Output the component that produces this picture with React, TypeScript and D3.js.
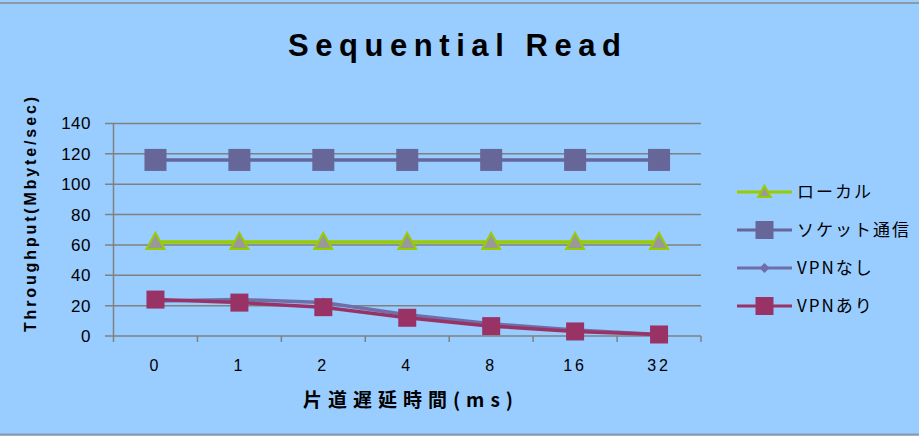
import React from "react";
import * as d3 from "d3";

const categories = ["0", "1", "2", "4", "8", "16", "32"];
const local = [62, 62, 62, 62, 62, 62, 62];
const socket = [116, 116, 116, 116, 116, 116, 116];
const vpnNone = [23, 24, 22, 14, 8, 4, 1];
const vpnWith = [24, 22, 19, 12, 6.5, 3, 1];
const yTicks = [0, 20, 40, 60, 80, 100, 120, 140];

const W = 919;
const H = 436;
const plot = { left: 113.5, right: 701, top: 123.5, bottom: 336 };

type Series = { name: string; values: number[]; color: string; marker: string; fill: string };

const series: Series[] = [
  { name: "ローカル", values: local, color: "#99CC00", marker: "triangle", fill: "#999999" },
  { name: "ソケット通信", values: socket, color: "#666699", marker: "bigsquare", fill: "#666699" },
  { name: "VPNなし", values: vpnNone, color: "#6E6EA8", marker: "diamond", fill: "#6E6EA8" },
  { name: "VPNあり", values: vpnWith, color: "#993366", marker: "square", fill: "#993366" },
];

function Marker({ kind, x, y, color, fill, small }: { kind: string; x: number; y: number; color: string; fill: string; small?: boolean }) {
  const k = small ? 0.7 : 1;
  if (kind === "triangle") {
    const p = `${x},${y - 9 * k} ${x + 9 * k},${y + 7 * k} ${x - 9 * k},${y + 7 * k}`;
    return <polygon points={p} fill={fill} stroke={color} strokeWidth={2} />;
  }
  if (kind === "bigsquare") {
    const s = 11 * k;
    return <rect x={x - s} y={y - s} width={2 * s} height={2 * s} fill={fill} />;
  }
  if (kind === "square") {
    const s = 9 * k;
    return <rect x={x - s} y={y - s} width={2 * s} height={2 * s} fill={fill} />;
  }
  const p = `${x},${y - 5} ${x + 5},${y} ${x},${y + 5} ${x - 5},${y}`;
  return <polygon points={p} fill={fill} />;
}

export default function App() {
  const x = d3.scaleBand<string>().domain(categories).range([plot.left, plot.right]);
  const y = d3.scaleLinear().domain([0, 140]).range([plot.bottom, plot.top]);
  const cx = (c: string) => (x(c) as number) + x.bandwidth() / 2;
  const line = d3
    .line<number>()
    .x((_, i) => cx(categories[i]))
    .y((d) => y(d));

  const boundaries = categories.map((c) => x(c) as number).concat([plot.right]);

  const legendX0 = 737;
  const legendX1 = 792;
  const legendY = [192, 230, 268, 306];

  return (
    <svg width={W} height={H} style={{ position: "absolute", left: 0, top: 0, display: "block" }}>
      <rect x={0} y={0} width={W} height={H} fill="#99CCFF" />
      <line x1={0} x2={W} y1={3} y2={3} stroke="#8C9AA8" strokeWidth={2} />
      <line x1={0} x2={W} y1={434.5} y2={434.5} stroke="#8C9AA8" strokeWidth={2} />

      <text
        x={288}
        y={56}
        fontFamily="'Liberation Sans', Arial, sans-serif"
        fontWeight="bold"
        fontSize={31}
        textLength={333}
        lengthAdjust="spacing"
        fill="#000"
      >
        Sequential Read
      </text>

      {/* gridlines */}
      {yTicks.map((t) => (
        <line key={"g" + t} x1={105} x2={plot.right} y1={y(t)} y2={y(t)} stroke="#808080" strokeWidth={1.5} />
      ))}
      <line x1={plot.left} x2={plot.left} y1={plot.top} y2={plot.bottom} stroke="#808080" strokeWidth={1.5} />
      {boundaries.map((b, i) => (
        <line key={"t" + i} x1={b} x2={b} y1={plot.bottom} y2={plot.bottom + 6} stroke="#808080" strokeWidth={1.5} />
      ))}

      {/* y tick labels */}
      {yTicks.map((t) => (
        <text
          key={"yl" + t}
          x={91}
          y={y(t)}
          dy="0.35em"
          textAnchor="end"
          fontFamily="'Liberation Sans', Arial, sans-serif"
          fontSize={17}
          letterSpacing={0.5}
          fill="#000"
        >
          {t}
        </text>
      ))}
      {/* x tick labels */}
      {categories.map((c) => (
        <text
          key={"xl" + c}
          x={cx(c)}
          y={365}
          dy="0.35em"
          textAnchor="middle"
          fontFamily="'Liberation Sans', Arial, sans-serif"
          fontSize={16}
          letterSpacing={3}
          fill="#000"
        >
          {c}
        </text>
      ))}

      <text
        x={303}
        y={400}
        dy="0.35em"
        fontFamily="'Noto Sans CJK JP', sans-serif"
        fontWeight="bold"
        fontSize={19}
        textLength={210}
        lengthAdjust="spacing"
        fill="#000"
      >
        片道遅延時間(ms)
      </text>
      <text
        transform="translate(30,332) rotate(-90)"
        dy="0.35em"
        fontFamily="'Liberation Sans', Arial, sans-serif"
        fontWeight="bold"
        fontSize={16}
        textLength={235}
        lengthAdjust="spacing"
        fill="#000"
      >
        Throughput(Mbyte/sec)
      </text>

      {/* series */}
      {series.map((s) => (
        <g key={s.name}>
          <path d={line(s.values) ?? ""} fill="none" stroke={s.color} strokeWidth={3.5} />
          {s.values.map((v, i) => (
            <Marker key={i} kind={s.marker} x={cx(categories[i])} y={y(v)} color={s.color} fill={s.fill} />
          ))}
        </g>
      ))}

      {/* legend */}
      {series.map((s, i) => (
        <g key={"lg" + s.name}>
          <line x1={legendX0} x2={legendX1} y1={legendY[i]} y2={legendY[i]} stroke={s.color} strokeWidth={3} />
          <Marker
            kind={s.marker === "bigsquare" ? "square" : s.marker}
            x={(legendX0 + legendX1) / 2}
            y={legendY[i]}
            color={s.color}
            fill={s.fill}
            small={s.marker === "triangle"}
          />
          <text
            x={797}
            y={legendY[i]}
            dy="0.35em"
            fontFamily="'Noto Sans CJK JP', sans-serif"
            fontSize={17}
            letterSpacing={2}
            fill="#000"
          >
            {s.name}
          </text>
        </g>
      ))}
    </svg>
  );
}
